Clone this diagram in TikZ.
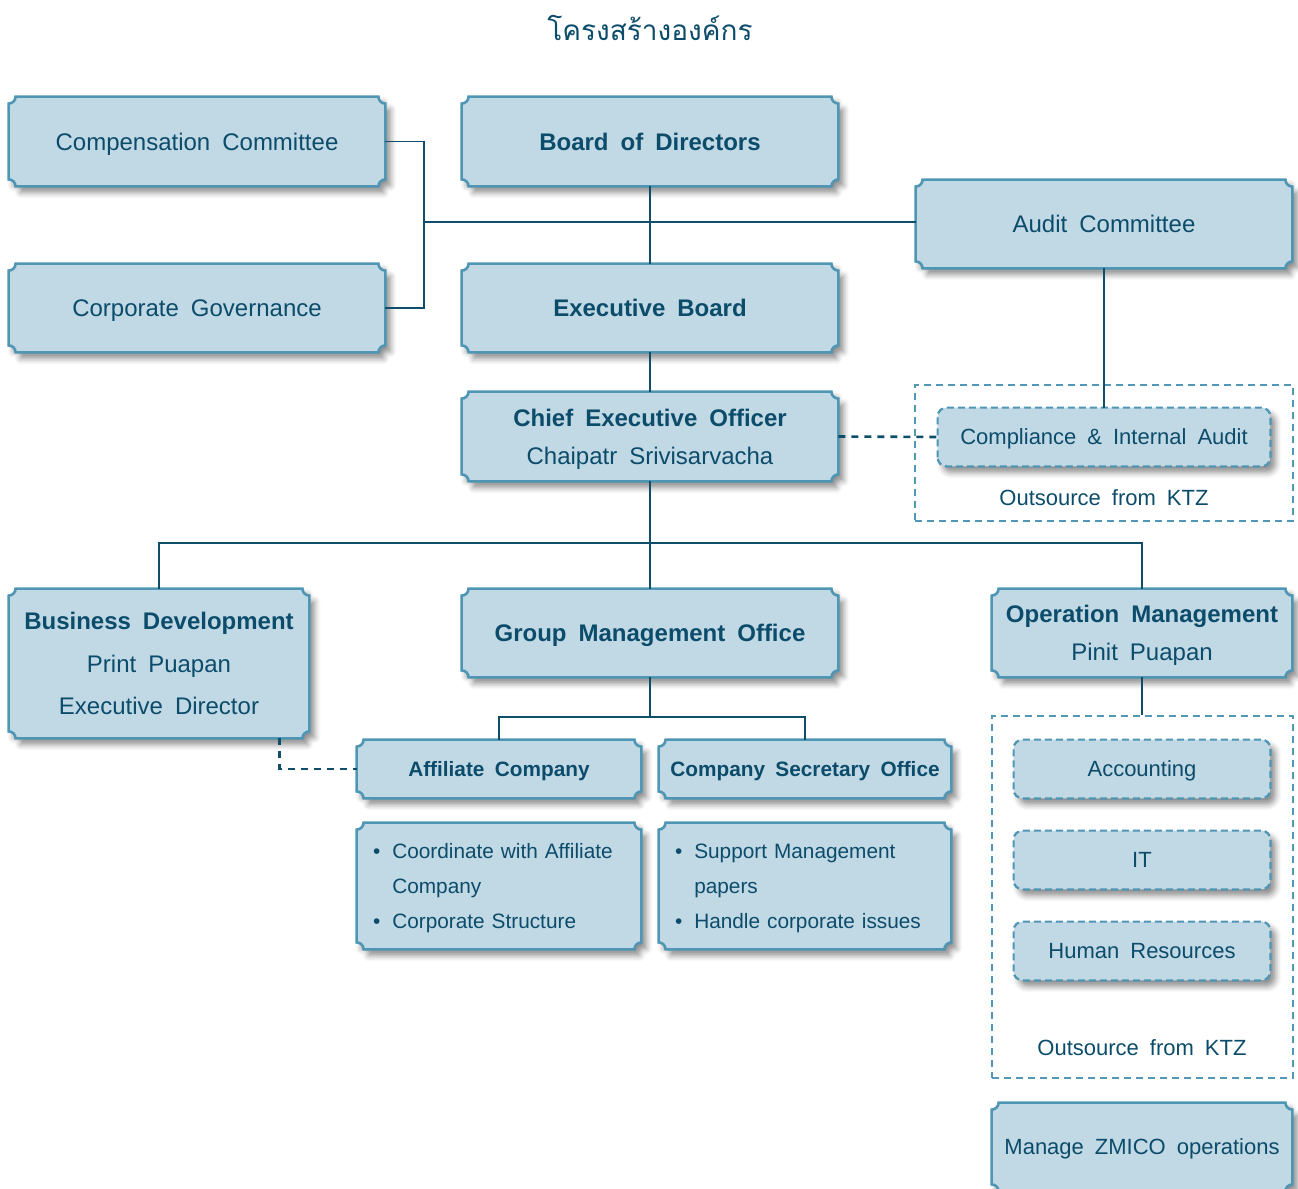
\documentclass[tikz,border=0pt]{standalone}
\usepackage{fontspec}
\setmainfont[WordSpace=1.8]{Liberation Sans}
\newfontfamily\thaifont[Script=Thai]{Loma}
\usetikzlibrary{calc,shadows.blur}
\pgfdeclarelayer{background}
\pgfsetlayers{background,main}
\definecolor{boxfill}{RGB}{193,216,229}
\definecolor{boxline}{RGB}{78,150,180}
\definecolor{txt}{RGB}{12,76,107}
\definecolor{linec}{RGB}{14,78,106}
\definecolor{dashc}{RGB}{80,152,182}
\newlength\sr \setlength\sr{3.5pt}
\newcommand\scoopframe[1]{%
  \begin{pgfonlayer}{background}
  \path[boxframe] ($(#1.south west)+(0pt,\sr)$) -- ($(#1.north west)+(0pt,-\sr)$)
    arc[start angle=270,end angle=360,radius=\sr]
    -- ($(#1.north east)+(-\sr,0pt)$)
    arc[start angle=180,end angle=270,radius=\sr]
    -- ($(#1.south east)+(0pt,\sr)$)
    arc[start angle=90,end angle=180,radius=\sr]
    -- ($(#1.south west)+(\sr,0pt)$)
    arc[start angle=0,end angle=90,radius=\sr] -- cycle;
  \end{pgfonlayer}}
\newcommand\dashframe[1]{%
  \begin{pgfonlayer}{background}
  \path[dboxframe] (#1.south west) rectangle (#1.north east);
  \end{pgfonlayer}}
\tikzset{
  shad/.style={blur shadow={shadow xshift=2.5pt, shadow yshift=-3pt, shadow blur radius=3pt, shadow opacity=45}},
  boxframe/.style={fill=boxfill, draw=boxline, line width=1.3pt, shad},
  dboxframe/.style={fill=boxfill, draw=boxline, line width=1.1pt, dash pattern=on 3.5pt off 2pt, rounded corners=4.5pt, shad},
  wh/.style 2 args={minimum width=#1*0.5pt, minimum height=#2*0.5pt},
  lab/.style={align=center, inner sep=0pt, text=txt},
  big/.style={lab, font=\fontsize{12}{19}\selectfont, text height=8.6pt, text depth=0pt},
  bigb/.style={big, font=\fontsize{12}{19}\selectfont\bfseries},
  mid/.style={lab, font=\fontsize{11}{14}\selectfont, text height=7.9pt, text depth=0pt},
  smallb/.style={lab, font=\fontsize{10.4}{13}\selectfont\bfseries, text height=7.5pt, text depth=0pt},
  bul/.style={lab, align=left, inner xsep=8pt, font=\fontsize{10.4}{17.5}\selectfont},
  cont/.style={draw=dashc, line width=1.25pt, dash pattern=on 3.5pt off 2.5pt, inner sep=0pt},
  conn/.style={draw=linec, line width=0.75pt},
  dconn/.style={draw=linec, line width=1.3pt, dash pattern=on 3.5pt off 3pt},
}
\begin{document}
\begin{tikzpicture}[x=0.5pt, y=-0.5pt]
\useasboundingbox (0,0) rectangle (1298,1189);
\node[text=txt, font=\thaifont\fontsize{14}{18}\selectfont] (title) at (650,28) {โครงสร้างองค์กร};

\node[big, wh={376}{89}] (cc) at (197,141.5) {Compensation Committee};
\node[bigb, wh={376}{89}] (bod) at (650,141.5) {Board of Directors};
\node[big, wh={376}{88}] (ac) at (1104,224) {Audit Committee};
\node[big, wh={376}{88}] (cg) at (197,308) {Corporate Governance};
\node[bigb, wh={376}{88}] (eb) at (650,308) {Executive Board};
\node[big, text height=27.6pt, wh={376}{89}] (ceo) at (650,436.5) {\textbf{Chief Executive Officer}\\Chaipatr Srivisarvacha};
\node[big, font=\fontsize{12}{21.25}\selectfont, text height=51.1pt, wh={300}{149}] (bd) at (159,663.5) {\textbf{Business Development}\\Print Puapan\\Executive Director};
\node[bigb, wh={376}{88}] (gmo) at (650,633) {Group Management Office};
\node[big, text height=27.6pt, wh={300}{88}] (om) at (1142,633) {\textbf{Operation Management}\\Pinit Puapan};
\node[smallb, wh={284}{58}] (aff) at (499,769) {Affiliate Company};
\node[smallb, wh={292}{58}] (sec) at (805,769) {Company Secretary Office};
\node[bul, wh={284}{126}, text width=126pt] (affl) at (499,886) {\noindent\begin{tabular}{@{}l@{\hspace{6pt}}l@{}}•&Coordinate with Affiliate\\&Company\\•&Corporate Structure\end{tabular}};
\node[bul, wh={292}{126}, text width=130pt] (secl) at (805,886) {\noindent\begin{tabular}{@{}l@{\hspace{6pt}}l@{}}•&Support Management\\&papers\\•&Handle corporate issues\end{tabular}};
\node[mid, wh={300}{88}] (zm) at (1142,1147) {Manage ZMICO operations};

\node[mid, wh={332}{58}] (cia) at (1104,437) {Compliance \& Internal Audit};
\node[mid] (ktz1) at (1104,498) {Outsource from KTZ};
\node[cont, wh={378}{136}] (cont1) at (1104,453) {};
\node[mid, wh={256}{58}] (acc) at (1142,769) {Accounting};
\node[mid, wh={256}{58}] (it) at (1142,860) {IT};
\node[mid, wh={256}{58}] (hr) at (1142,951) {Human Resources};
\node[mid] (ktz2) at (1142,1048) {Outsource from KTZ};
\node[cont, wh={301}{362}] (cont2) at (1142.5,897) {};

\foreach \n in {cc,bod,ac,cg,eb,ceo,bd,gmo,om,aff,sec,affl,secl,zm} {\scoopframe{\n}}
\foreach \n in {cia,acc,it,hr} {\dashframe{\n}}

\coordinate (j1) at (424,222);
\coordinate (j2) at (650,543);
\coordinate (j3) at (650,717);
\draw[conn] (cc.east) -| (j1) |- (cg.east);
\draw[conn] (j1) -- (j1 -| ac.west);
\draw[conn] (bod.south) -- (eb.north);
\draw[conn] (ac.south) -- (cia.north);
\draw[conn] (eb.south) -- (ceo.north);
\draw[dconn] (ceo.east) -- (cia.west);
\draw[conn] (ceo.south) -- (gmo.north);
\draw[conn] (bd.north) -- (bd.north |- j2) -- (om.north |- j2) -- (om.north);
\draw[conn] (gmo.south) -- (j3);
\draw[conn] (aff.north) |- (j3) -| (sec.north);
\draw[dconn] ($(bd.south east)+(-15pt,0pt)$) |- (aff.west);
\draw[conn] (om.south) -- (om.south |- cont2.north);
\end{tikzpicture}
\end{document}
